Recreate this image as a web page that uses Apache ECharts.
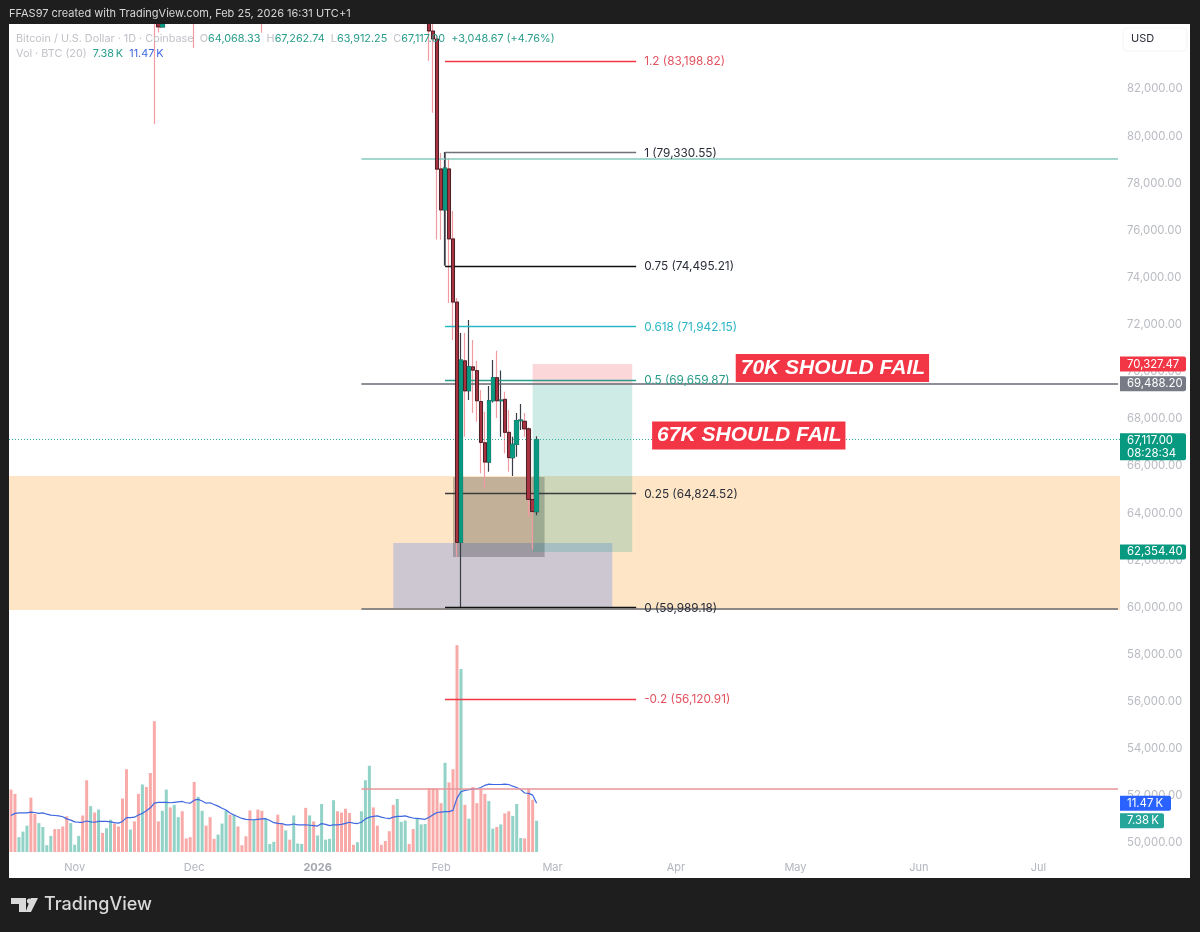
<!DOCTYPE html>
<html>
<head>
<meta charset="utf-8">
<title>BTCUSD 1D</title>
<script src="https://cdn.jsdelivr.net/npm/echarts@6/dist/echarts.min.js"></script>
<style>
  html, body { margin: 0; padding: 0; background: #1e1e1e; }
  #main { width: 1200px; height: 932px; }
</style>
</head>
<body>
<div id="main"></div>
<script>
// daily candles, Oct 16 2025 -> Feb 25 2026 (everything above 84.7k is off the visible range)
const opens = [
  111000,108200,106500,107200,108700,110500,108000,107600,110100,111000,
  111100,114500,114100,112900,110100,108000,109600,110100,110600,106500,
  101500,103900,101300,103400,102300,104700,106000,103000,99700,97000,
  94500,95600,94000,92000,92900,91500,86600,85100,84640,86900,
  88300,87300,90500,91300,90900,90800,90300,86200,91300,93400,
  92000,89300,89200,90400,90600,92500,92000,92500,90200,90100,
  88200,86400,86500,85900,85400,88100,88200,88500,88000,87300,
  87700,87200,87500,87800,87900,87100,88400,87600,88800,89500,
  90600,91400,93700,93000,91200,91000,90500,90400,90700,92100,
  95500,96900,95600,95100,95000,93600,92500,88300,89400,89500,
  89600,89100,86600,88000,88400,89200,84465,84125,78610,76870,
  78610,75640,72960,62755,70465,69200,70210,70050,68740,66990,
  66170,68770,69750,68770,68830,67430,66360,66920,67930,67900,
  67580,64580,64068.33
]
const closes = [
  108200,106500,107200,108700,110500,108000,107600,110100,111000,111100,
  114500,114100,112900,110100,108000,109600,110100,110600,106500,101500,
  103900,101300,103400,102300,104700,106000,103000,99700,97000,94500,
  95600,94000,92000,92900,91500,86600,85100,84640,86900,88300,
  87300,90500,91300,90900,90800,90300,86200,91300,93400,92000,
  89300,89200,90400,90600,92500,92000,92500,90200,90100,88200,
  86400,86500,85900,85400,88100,88200,88500,88000,87300,87700,
  87200,87500,87800,87900,87100,88400,87600,88800,89500,90600,
  91400,93700,93000,91200,91000,90500,90400,90700,92100,95500,
  96900,95600,95100,95000,93600,92500,88300,89400,89500,89600,
  89100,86600,88000,88400,89200,84465,84125,78600,76870,78650,
  75640,72960,62755,70500,69190,70210,70070,68770,67000,66170,
  68770,69750,68770,68800,67430,66360,66920,67930,67950,67580,
  64580,64068.33,67117
]
const highs = [
  113600,109200,108100,109300,111700,111000,108900,110900,113500,111500,
  115500,116400,114800,113600,110600,110400,111200,111200,111100,107300,
  104500,104800,104500,104600,105500,106700,106000,103600,100500,99000,
  96700,96000,95500,93900,93800,92300,87500,85500,87500,88500,
  89200,91000,91900,92000,91700,91800,90500,92200,94000,94100,
  92600,90300,91700,92700,92700,93500,94500,92800,90600,90600,
  88800,87500,87900,86700,88700,89100,89000,88900,88200,88200,
  88000,88100,88200,88400,87900,88800,88600,89500,90600,91800,
  92000,94700,94400,93500,91800,91500,91500,91300,92400,96700,
  97900,97100,95500,96200,95400,94000,92700,89800,90400,90000,
  90300,90000,89000,89300,90000,90500,84900,84300,79290,79330.55,
  79070,76830,73130,71650,71650,72200,71350,70470,69230,68300,
  69400,70500,70890,70050,69150,68380,67240,68250,68630,68250,
  67650,64900,67262.74
]
const lows = [
  107500,105500,106200,106700,108000,107200,106800,107500,110500,110000,
  110700,113500,112000,109700,106400,107800,109500,109500,105500,100800,
  100000,100800,100900,101600,102000,104500,102500,98900,95900,93900,
  94000,93000,91500,89300,91000,86200,80518,84400,84640,86000,
  86400,87000,89900,90100,90300,90000,83743,86000,90900,91500,
  88200,88800,89000,89500,89900,91500,91700,89800,89200,87700,
  85400,85300,85100,84390,85300,87600,87700,87300,86500,86800,
  86500,86800,87200,87400,86700,86800,87200,87300,88200,89000,
  90200,91200,92500,90500,89500,89800,90000,89300,90000,91700,
  94600,94500,94900,92500,92500,92400,87500,87800,88600,88800,
  88600,86000,86100,87000,87800,83200,81000,75620,75600,74500,
  72920,71350,62150,59989.18,67240,68800,68250,67880,65690,65050,
  65760,68700,68040,67240,66530,65760,65580,66390,67530,67240,
  63850,62450,63912.25
]
// volume in thousands of BTC
const volumes = [
  14.7,13.7,3.5,4.8,6.2,12.8,9.0,6.8,5.9,1.6,
  3.8,5.4,5.4,6.0,8.4,6.8,1.7,3.8,8.6,16.9,
  10.8,9.3,10.0,4.5,5.6,7.6,6.7,6.0,12.6,19.5,
  5.3,7.2,13.7,15.9,15.3,18.6,30.8,7.2,9.7,14.7,
  10.5,11.1,8.2,9.6,3.2,3.5,16.5,13.0,9.7,6.2,
  8.2,3.1,4.1,6.7,9.8,8.8,8.8,6.0,1.6,3.7,
  9.8,7.6,10.0,9.7,7.8,1.9,2.4,8.8,6.8,5.1,
  2.9,8.6,2.0,1.9,10.4,8.6,7.2,3.9,11.3,2.9,
  3.1,12.2,9.6,9.3,10.2,9.2,1.7,2.3,9.6,16.9,
  20.3,10.5,6.2,1.7,2.6,4.9,11.1,12.5,7.1,7.4,
  1.9,5.4,8.0,6.5,6.6,15.0,15.0,14.9,11.5,21.0,
  16.4,19.5,48.7,43.1,11.1,7.85,15.3,11.5,14.8,13.7,
  12.0,5.5,5.9,6.5,9.1,9.6,8.5,11.3,3.3,3.2,
  14.9,12.3,7.38
]
// blue volume MA(20)
const volumeMa = [
  8.6,9.1,9.2,9.2,9.2,9.4,9.3,9.1,9.2,8.9,
  8.7,8.6,8.5,8.3,7.8,7.5,7.1,7.0,7.0,7.3,
  7.1,7.0,7.2,7.2,7.2,7.1,6.9,6.8,7.2,8.1,
  8.1,8.2,8.7,9.1,9.7,10.4,11.5,11.7,11.7,11.7,
  11.6,11.7,11.8,11.9,11.6,11.5,12.2,12.4,12.0,11.5,
  11.6,11.2,10.8,10.3,9.9,9.2,8.7,8.3,7.9,7.7,
  7.6,7.6,7.7,7.8,7.85,7.4,6.9,6.75,6.7,6.4,
  6.4,6.6,6.4,6.4,6.4,6.3,6.2,6.1,6.7,6.5,
  6.2,6.4,6.4,6.5,6.75,7.0,6.8,6.7,7.0,7.8,
  8.2,8.4,8.5,8.2,8.0,7.85,8.2,8.4,8.4,8.5,
  8.2,8.0,7.9,7.8,7.7,8.2,8.8,9.3,9.4,9.5,
  9.5,9.8,12.7,14.2,14.5,14.7,14.8,14.9,15.2,15.7,
  16.0,15.9,15.9,15.9,16.0,15.9,15.5,15.2,14.7,13.9,
  13.8,13.4,11.47
]

const firstDay = '2025-10-16'
const dayCount = 279   // candles plus the empty space on the right
const monthLabels = {
  '2025-11-01': 'Nov', '2025-12-01': 'Dec', '2026-01-01': '2026', '2026-02-01': 'Feb',
  '2026-03-01': 'Mar', '2026-04-01': 'Apr', '2026-05-01': 'May', '2026-06-01': 'Jun', '2026-07-01': 'Jul'
}
const priceTicks = [50000,52000,54000,56000,58000,60000,62000,64000,66000,68000,70000,72000,74000,76000,78000,80000,82000]

// fib retracement
const fibRatios = ['1.2', '1', '0.75', '0.618', '0.5', '0.25', '0', '-0.2']
const fibPrices = [83198.82, 79330.55, 74495.21, 71942.15, 69659.87, 64824.52, 59989.18, 56120.91]
const fibLineColors = ['#f23645', '#6f7279', '#111111', '#2bb6c4', '#2a9d8a', '#3c3c3c', '#111111', '#f23645']
const fibTextColors = ['#e2525f', '#2a2e39', '#2a2e39', '#2bb6c4', '#2a9d8a', '#2a2e39', '#2a2e39', '#e2525f']

const fmt = v => v.toLocaleString('en-US', { minimumFractionDigits: 2, maximumFractionDigits: 2 })

const categories = []
for (let i = 0; i < dayCount; i++) {
  const d = new Date(Date.parse(firstDay + 'T00:00:00Z') + i * 86400000)
  categories.push(d.toISOString().slice(0, 10))
}

const UP = '#089981'
const candleData = opens.map((o, i) => [o, closes[i], lows[i], highs[i]])
const bodyData = opens.map((o, i) => [o, closes[i], Math.min(o, closes[i]), Math.max(o, closes[i])])
const volumeData = volumes.map((v, i) => ({
  value: v,
  itemStyle: { color: closes[i] >= opens[i] ? '#92d2c7' : '#f8aaa9' }
}))

// x positions below are day indexes into categories
const fibFrom = 109, fibTo = 157, fibTextAt = 159, lastDay = dayCount - 1

const fibLines = fibPrices.map((p, i) => [
  { coord: [fibFrom, p], lineStyle: { color: fibLineColors[i], width: 1.4, type: 'solid' } },
  { coord: [fibTo, p], lineStyle: { color: fibLineColors[i], width: 1.4, type: 'solid' } }
])
const fibTexts = fibPrices.map((p, i) => ({
  coord: [fibTextAt, p],
  label: { formatter: `${fibRatios[i]} (${fmt(p)})`, color: fibTextColors[i] }
}))

const longLines = [
  [{ coord: [88, 79032], lineStyle: { color: '#86cabe', width: 1.5, type: 'solid' } }, { coord: [lastDay, 79032] }],
  [{ coord: [88, 69488.2], lineStyle: { color: '#666a72', width: 1.5, type: 'solid' } }, { coord: [lastDay, 69488.2] }],
  [{ coord: [88, 59960], lineStyle: { color: '#666a72', width: 1.5, type: 'solid' } }, { coord: [lastDay, 59960] }],
  [{ coord: [88, 52292], lineStyle: { color: '#e8949a', width: 1.5, type: 'solid' } }, { coord: [lastDay, 52292] }],
  [{ coord: [109, 79330.55], lineStyle: { color: '#6f7279', width: 1, type: 'solid' } }, { coord: [109, 74495.21] }]
]

const calloutLabel = {
  position: 'right', distance: 0, color: '#fff', backgroundColor: '#f23645',
  fontFamily: 'Liberation Sans', fontStyle: 'italic', fontWeight: 'bold', fontSize: 21,
  padding: [4, 4, 3, 5]
}

const chart = echarts.init(document.getElementById('main'))
const option = {
  animation: false,
  backgroundColor: '#1e1e1e',
  textStyle: { fontFamily: 'Inter' },
  grid: { left: 9, top: 24, right: 80, bottom: 80 },
  xAxis: {
    type: 'category',
    data: categories,
    boundaryGap: true,
    axisLine: { show: false },
    axisTick: { show: false },
    splitLine: { show: false },
    axisLabel: {
      margin: 10,
      fontSize: 11,
      color: '#b2b5be',
      hideOverlap: false,
      interval: (i, val) => val in monthLabels,
      formatter: val => monthLabels[val] === '2026' ? '{y|2026}' : (monthLabels[val] || ''),
      rich: { y: { fontWeight: 'bold', fontSize: 11, color: '#a3a6af' } }
    }
  },
  yAxis: [
    {
      type: 'value',
      position: 'right',
      min: 49618,
      max: 84762,
      axisLine: { show: false },
      axisTick: { show: false },
      splitLine: { show: false },
      axisLabel: {
        customValues: priceTicks,
        margin: 7,
        fontSize: 11.4,
        color: '#b9bbc2',
        formatter: v => fmt(v)
      }
    },
    { type: 'value', min: 0, max: 195, show: false, splitLine: { show: false } }
  ],
  series: [
    {
      // zones drawn under everything
      name: 'zones',
      type: 'line',
      data: [],
      z: 1,
      silent: true,
      markArea: {
        silent: true,
        data: [
          [{ yAxis: 65577, itemStyle: { color: '#fee5c6', opacity: 1 } }, { yAxis: 59890 }],
          [{ coord: [96, 62733], itemStyle: { color: 'rgba(156,170,219,0.5)', opacity: 1 } }, { coord: [151, 59975] }],
          [{ coord: [111, 65535], itemStyle: { color: 'rgba(0,0,0,0.23)', opacity: 1 } }, { coord: [134, 62139] }],
          [{ coord: [131, 70327.47], itemStyle: { color: 'rgba(242,54,69,0.2)', opacity: 1 } }, { coord: [156, 69488.2] }],
          [{ coord: [131, 69488.2], itemStyle: { color: 'rgba(8,153,129,0.2)', opacity: 1 } }, { coord: [156, 62354.4] }]
        ]
      }
    },
    {
      name: 'Vol',
      type: 'bar',
      yAxisIndex: 1,
      data: volumeData,
      barWidth: 3,
      z: 2
    },
    {
      name: 'Vol MA',
      type: 'line',
      yAxisIndex: 1,
      data: volumeMa,
      showSymbol: false,
      lineStyle: { color: '#3f68e0', width: 1.2 },
      z: 3
    },
    {
      // full candles: pink or dark wicks
      name: 'BTCUSD',
      type: 'candlestick',
      data: candleData,
      barWidth: 4,
      itemStyle: { color: UP, color0: '#a83240', borderColor: '#3a3d45', borderColor0: '#f09aa2', borderWidth: 1.2 },
      z: 4
    },
    {
      // bodies again on top, down candles keep their black outline
      name: 'BTCUSD bodies',
      type: 'candlestick',
      data: bodyData,
      barWidth: 4,
      itemStyle: { color: UP, color0: '#a83240', borderColor: UP, borderColor0: '#2a1216', borderWidth: 0.8 },
      z: 5
    },
    {
      name: 'levels',
      type: 'line',
      data: [],
      z: 6,
      silent: true,
      markLine: {
        silent: true,
        symbol: 'none',
        label: { show: false },
        data: [
          ...fibLines,
          ...longLines,
          { yAxis: closes[closes.length - 1], lineStyle: { color: '#3fae9c', type: [1, 2], width: 1 } }
        ]
      },
      markPoint: {
        silent: true,
        symbol: 'circle',
        symbolSize: 0,
        label: { show: true, position: 'right', distance: 0, fontSize: 11.8, fontFamily: 'Inter', offset: [0, 1] },
        data: [
          ...fibTexts,
          { coord: [182, 70204], label: { ...calloutLabel, formatter: '70K SHOULD FAIL' } },
          { coord: [161, 67338], label: { ...calloutLabel, formatter: '67K SHOULD FAIL' } }
        ]
      }
    }
  ]
}
chart.setOption(option)

// price tags on the right axis, placed from the axis scales
const tag = (axis, val, x2, h, lines, color) => {
  const y = chart.convertToPixel({ yAxisIndex: axis }, val)
  return [
    { type: 'rect', z: 50, shape: { x: 1120, y: y - h / 2, width: x2 - 1120, height: h, r: [0, 2, 2, 0] }, style: { fill: color } },
    { type: 'text', z: 51, x: 1127, y: y, style: { text: lines, fill: '#fff', font: '11.4px Inter', lineHeight: 13, verticalAlign: 'middle' } }
  ]
}
const lastPrice = closes[closes.length - 1]
const G = '#c0c2c8', T = '#2a9d8a'
const headFont = '10.85px Inter'
chart.setOption({
  graphic: [
    // white chart panel, and the top band that hides candles above the plot
    { type: 'rect', z: -10, shape: { x: 9, y: 24, width: 1181, height: 854 }, style: { fill: '#fff' } },
    { type: 'rect', z: 40, shape: { x: 0, y: 0, width: 1200, height: 24 }, style: { fill: '#1e1e1e' } },
    { type: 'text', z: 50, x: 9, y: 14, style: { text: 'FFAS97 created with TradingView.com, Feb 25, 2026 16:31 UTC+1', fill: '#d6d6d6', font: '11px Inter', verticalAlign: 'middle' } },
    {
      type: 'text', z: 50, x: 16, y: 39,
      style: {
        text: '{g|Bitcoin / U.S. Dollar · 1D · Coinbase  O}{t|64,068.33}{g|  H}{t|67,262.74}{g|  L}{t|63,912.25}{g|  C}{t|67,117.00}{t|  +3,048.67 (+4.76%)}',
        verticalAlign: 'middle',
        rich: {
          g: { fill: G, font: headFont },
          t: { fill: T, font: headFont }
        }
      }
    },
    {
      type: 'text', z: 50, x: 16, y: 54,
      style: {
        text: '{g|Vol · BTC (20)  }{t|7.38\u2009K}{b|  11.47\u2009K}',
        verticalAlign: 'middle',
        rich: {
          g: { fill: G, font: headFont },
          t: { fill: T, font: headFont },
          b: { fill: '#3f68e0', font: headFont }
        }
      }
    },
    { type: 'rect', z: 50, shape: { x: 1123, y: 28, width: 64, height: 23, r: 4 }, style: { fill: '#fff', stroke: '#f4f4f5' } },
    { type: 'text', z: 51, x: 1131, y: 39, style: { text: 'USD', fill: '#2a2e39', font: '11px Inter', verticalAlign: 'middle' } },
    ...tag(0, 70327.47, 1186, 15, fmt(70327.47), '#f23645'),
    ...tag(0, 69488.2, 1186, 15, fmt(69488.2), '#787b86'),
    ...tag(0, lastPrice - 300, 1186, 27, fmt(lastPrice) + '\n08:28:34', UP),
    ...tag(0, 62354.4, 1186, 15, fmt(62354.4), UP),
    ...tag(1, 11.47, 1171, 15, '11.47\u2009K', '#2962ff'),
    ...tag(1, 7.38, 1164, 15, '7.38\u2009K', '#26a69a'),
    // TradingView logo
    { type: 'polygon', z: 50, shape: { points: [[11, 898], [26, 898], [26, 912], [19, 912], [19, 904], [11, 904]] }, style: { fill: '#d9d9d9' } },
    { type: 'circle', z: 50, shape: { cx: 29.5, cy: 901, r: 2.6 }, style: { fill: '#d9d9d9' } },
    { type: 'polygon', z: 50, shape: { points: [[31, 898], [38, 898], [31, 912], [25.5, 912]] }, style: { fill: '#d9d9d9' } },
    { type: 'text', z: 50, x: 44, y: 905, style: { text: 'TradingView', fill: '#d9d9d9', font: '500 18px Inter', verticalAlign: 'middle' } }
  ]
})
</script>
</body>
</html>
